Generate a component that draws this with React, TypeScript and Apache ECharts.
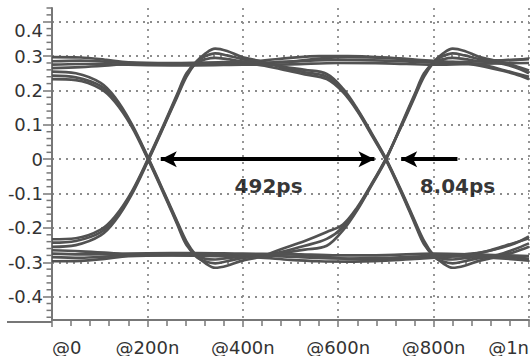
import React, { useEffect, useRef } from 'react';
import * as echarts from 'echarts';

// ---- axis ticks / labels ----
const xMajorTicks = [0, 200, 400, 600, 800, 1000];
const xTickLabels = ['@0', '@200n', '@400n', '@600n', '@800n', '@1n'];
const yMajorTicks = [-0.4, -0.3, -0.2, -0.1, 0, 0.1, 0.2, 0.3, 0.4];
const yTickLabels = ['-0.4', '-0.3', '-0.2', '-0.1', '0', '0.1', '0.2', '0.3', '0.4'];
const yMinorTicks = [
  -0.46, -0.44, -0.42, -0.38, -0.36, -0.34, -0.32, -0.28, -0.26, -0.24, -0.22,
  -0.18, -0.16, -0.14, -0.12, -0.08, -0.06, -0.04, -0.02, 0.02, 0.04, 0.06, 0.08,
  0.12, 0.14, 0.16, 0.18, 0.22, 0.24, 0.26, 0.28, 0.32, 0.34, 0.36, 0.38, 0.42, 0.44,
];

// ---- eye-diagram traces (time, volts) ----
const traceHLHL = [[0,0.255],[50,0.25],[102,0.222],[132,0.18],[167,0.103],[202,0.003],[237,-0.103],[262,-0.18],[282,-0.24],[302,-0.28],[322,-0.303],[342,-0.316],[367,-0.31],[397,-0.296],[437,-0.284],[480,-0.262],[530,-0.238],[576,-0.212],[610,-0.19],[640,-0.14],[670,-0.072],[700,0.002],[735,0.103],[760,0.18],[780,0.24],[800,0.282],[820,0.308],[840,0.322],[865,0.315],[895,0.298],[935,0.285],[970,0.272],[1000,0.258]];
const traceHLHH = [[0,0.243],[50,0.238],[102,0.213],[132,0.173],[167,0.099],[202,0],[237,-0.106],[262,-0.184],[282,-0.245],[302,-0.283],[322,-0.298],[342,-0.303],[367,-0.297],[397,-0.288],[437,-0.281],[480,-0.27],[530,-0.252],[576,-0.232],[610,-0.198],[640,-0.144],[670,-0.074],[700,0],[735,0.106],[760,0.184],[780,0.245],[800,0.283],[820,0.3],[840,0.308],[865,0.302],[895,0.292],[935,0.287],[1000,0.292]];
const traceHLLH = [[0,0.233],[50,0.23],[102,0.205],[132,0.167],[167,0.095],[202,-0.003],[237,-0.109],[262,-0.188],[282,-0.25],[302,-0.279],[322,-0.29],[342,-0.292],[367,-0.288],[397,-0.284],[437,-0.279],[500,-0.277],[560,-0.283],[620,-0.29],[700,-0.292],[760,-0.287],[820,-0.28],[880,-0.275],[930,-0.262],[970,-0.245],[1000,-0.225]];
const traceLHLH = [[0,-0.255],[50,-0.25],[102,-0.222],[132,-0.18],[167,-0.103],[202,-0.003],[237,0.103],[262,0.18],[282,0.24],[302,0.282],[322,0.308],[342,0.322],[367,0.315],[397,0.298],[437,0.285],[480,0.27],[530,0.26],[576,0.248],[610,0.205],[640,0.146],[670,0.076],[700,0.002],[735,-0.1],[760,-0.178],[780,-0.238],[800,-0.28],[820,-0.303],[840,-0.316],[865,-0.31],[895,-0.296],[935,-0.284],[970,-0.27],[1000,-0.255]];
const traceLHLL = [[0,-0.243],[50,-0.238],[102,-0.213],[132,-0.173],[167,-0.099],[202,0],[237,0.106],[262,0.184],[282,0.245],[302,0.283],[322,0.3],[342,0.308],[367,0.302],[397,0.292],[437,0.283],[480,0.268],[530,0.253],[576,0.24],[610,0.2],[640,0.143],[670,0.073],[700,0],[735,-0.103],[760,-0.182],[780,-0.243],[800,-0.283],[820,-0.298],[840,-0.303],[865,-0.297],[895,-0.288],[935,-0.283],[1000,-0.29]];
const traceLHHL = [[0,-0.233],[50,-0.23],[102,-0.205],[132,-0.167],[167,-0.095],[202,0.003],[237,0.109],[262,0.188],[282,0.25],[302,0.28],[322,0.291],[342,0.295],[367,0.291],[397,0.285],[437,0.28],[500,0.284],[560,0.293],[620,0.297],[700,0.295],[760,0.288],[820,0.28],[880,0.276],[930,0.262],[970,0.248],[1000,0.233]];
const traceHHLH = [[0,0.265],[60,0.268],[110,0.272],[160,0.277],[250,0.279],[350,0.279],[430,0.275],[480,0.262],[530,0.247],[576,0.233],[610,0.195],[640,0.14],[670,0.07],[700,-0.002],[735,-0.106],[760,-0.186],[780,-0.248],[800,-0.279],[820,-0.29],[840,-0.292],[865,-0.288],[895,-0.284],[935,-0.278],[970,-0.262],[1000,-0.245]];
const traceHHHL = [[0,0.297],[60,0.296],[110,0.29],[160,0.282],[250,0.28],[350,0.282],[430,0.286],[500,0.295],[560,0.3],[620,0.3],[700,0.296],[760,0.29],[840,0.283],[900,0.275],[950,0.258],[1000,0.24]];
const traceLLHL = [[0,-0.265],[60,-0.268],[110,-0.272],[160,-0.277],[250,-0.279],[350,-0.279],[430,-0.28],[480,-0.273],[530,-0.263],[576,-0.252],[610,-0.207],[640,-0.148],[670,-0.076],[700,-0.002],[735,0.109],[760,0.188],[780,0.25],[800,0.28],[820,0.291],[840,0.295],[865,0.291],[895,0.285],[935,0.28],[970,0.268],[1000,0.25]];
const traceLLLH = [[0,-0.297],[60,-0.296],[110,-0.29],[160,-0.282],[250,-0.28],[350,-0.282],[430,-0.286],[500,-0.293],[560,-0.297],[620,-0.298],[700,-0.295],[760,-0.29],[840,-0.283],[900,-0.272],[950,-0.252],[1000,-0.23]];
const traceHHHH = [[0,0.285],[60,0.287],[120,0.283],[200,0.278],[300,0.276],[400,0.278],[500,0.284],[600,0.289],[700,0.287],[800,0.282],[900,0.285],[1000,0.292]];
const traceLLLL = [[0,-0.285],[60,-0.287],[120,-0.283],[200,-0.278],[300,-0.276],[400,-0.278],[500,-0.284],[600,-0.289],[700,-0.287],[800,-0.282],[900,-0.285],[1000,-0.295]];
const traceHHHHb = [[0,0.275],[60,0.277],[120,0.276],[200,0.274],[300,0.273],[400,0.275],[500,0.276],[600,0.28],[700,0.279],[800,0.275],[900,0.278],[1000,0.28]];
const traceLLLLb = [[0,-0.275],[60,-0.277],[120,-0.276],[200,-0.274],[300,-0.273],[400,-0.275],[500,-0.276],[600,-0.28],[700,-0.279],[800,-0.275],[900,-0.278],[1000,-0.282]];

const traces = [
  traceHLHL, traceHLHH, traceHLLH, traceLHLH, traceLHLL, traceLHHL,
  traceHHLH, traceHHHL, traceLLHL, traceLLLH, traceHHHH, traceLLLL,
  traceHHHHb, traceLLLLb,
];

// ---- annotations ----
const annotationLabels = ['492ps', '8.04ps'];
const annotationX = [454, 850];
const annotationY = [-0.078, -0.078];
// arrow spans [start, end] in data units at y = 0
const eyeWidthArrow = [228, 676];
const jitterArrow = [850, 732];

const AXIS_COLOR = '#777';
const TRACE_COLOR = '#525252';
const GRID_COLOR = '#8c8c8c';
const LABEL_FONT = { fontSize: 18, fontFamily: 'DejaVu Sans', color: '#333' };

export default function App() {
  const ref = useRef<HTMLDivElement>(null);

  useEffect(() => {
    if (!ref.current) return;
    const chart = echarts.init(ref.current, undefined, { renderer: 'svg' });

    const traceSeries = traces.map((t, i) => ({
      type: 'line',
      name: 'trace' + i,
      data: t,
      showSymbol: false,
      smooth: 0.35,
      silent: true,
      lineStyle: { color: TRACE_COLOR, width: 2.7 },
      z: 2,
    }));

    const option: any = {
      animation: false,
      backgroundColor: '#fff',
      grid: { left: 52, right: -3, top: 8, bottom: 34, containLabel: false },
      xAxis: {
        type: 'value',
        min: 0,
        max: 1000,
        interval: 200,
        axisLine: { onZero: false, lineStyle: { color: AXIS_COLOR, width: 2 } },
        axisTick: { length: 7, lineStyle: { color: AXIS_COLOR, width: 1.5 } },
        minorTick: { show: true, splitNumber: 5, length: 6, lineStyle: { color: AXIS_COLOR, width: 1.5 } },
        axisLabel: {
          ...LABEL_FONT,
          margin: 18,
          alignMinLabel: 'left',
          alignMaxLabel: 'right',
          formatter: (v: number) => {
            const i = xMajorTicks.indexOf(Math.round(v));
            return i >= 0 ? xTickLabels[i] : '';
          },
        },
        splitLine: { show: true, lineStyle: { color: GRID_COLOR, width: 1.8, type: [2, 5] } },
      },
      yAxis: {
        type: 'value',
        min: -0.468,
        max: 0.44,
        position: 'left',
        axisLine: { show: true, onZero: false, lineStyle: { color: AXIS_COLOR, width: 2 } },
        axisTick: { show: true, length: 9, customValues: yMajorTicks, lineStyle: { color: AXIS_COLOR, width: 1.5 } },
        axisLabel: {
          ...LABEL_FONT,
          customValues: yMajorTicks,
          margin: 9,
          formatter: (v: number) => {
            let best = 0;
            yMajorTicks.forEach((t, i) => { if (Math.abs(t - v) < Math.abs(yMajorTicks[best] - v)) best = i; });
            return best === yMajorTicks.length - 1 ? '{top|' + yTickLabels[best] + '}' : yTickLabels[best];
          },
          rich: {
            top: { ...LABEL_FONT, padding: [18, 0, 0, 0] },
          },
        },
        splitLine: { show: true, lineStyle: { color: GRID_COLOR, width: 1.8, type: [2, 5] } },
      },
      graphic: [
        {
          type: 'line',
          shape: { x1: 7, y1: 322, x2: 52, y2: 322 },
          style: { stroke: AXIS_COLOR, lineWidth: 2 },
          silent: true,
        },
      ],
      series: [
        ...traceSeries,
        {
          type: 'scatter',
          name: 'annotations',
          symbolSize: 0,
          silent: true,
          z: 5,
          data: annotationLabels.map((n, i) => ({ name: n, value: [annotationX[i], annotationY[i]] })),
          label: {
            show: true,
            position: 'inside',
            formatter: '{b}',
            fontSize: 20,
            fontWeight: 'bold',
            fontFamily: 'DejaVu Sans',
            color: '#000',
          },
          markLine: {
            silent: true,
            animation: false,
            symbolSize: [12, 16],
            label: { show: false },
            lineStyle: { color: '#000', width: 4, type: 'solid' },
            emphasis: { disabled: true },
            data: [
              [
                { coord: [eyeWidthArrow[0], 0], symbol: 'arrow' },
                { coord: [eyeWidthArrow[1], 0], symbol: 'arrow' },
              ],
              [
                { coord: [jitterArrow[0], 0], symbol: 'none' },
                { coord: [jitterArrow[1], 0], symbol: 'arrow' },
              ],
            ],
          },
        },
      ],
    };

    chart.setOption(option);

    // minor y-axis ticks, placed through the axis scale
    const axisX = chart.convertToPixel({ xAxisIndex: 0 }, 0) as number;
    const minorTicks = yMinorTicks.map((v) => {
      const py = chart.convertToPixel({ yAxisIndex: 0 }, v) as number;
      return {
        type: 'line',
        shape: { x1: axisX - 5.5, y1: py, x2: axisX, y2: py },
        style: { stroke: AXIS_COLOR, lineWidth: 1.5 },
        silent: true,
      };
    });
    chart.setOption({ graphic: [option.graphic[0], ...minorTicks] });

    return () => chart.dispose();
  }, []);

  return (
    <div
      ref={ref}
      style={{ position: 'fixed', left: 0, top: 0, width: 532, height: 356, background: '#fff' }}
    />
  );
}
